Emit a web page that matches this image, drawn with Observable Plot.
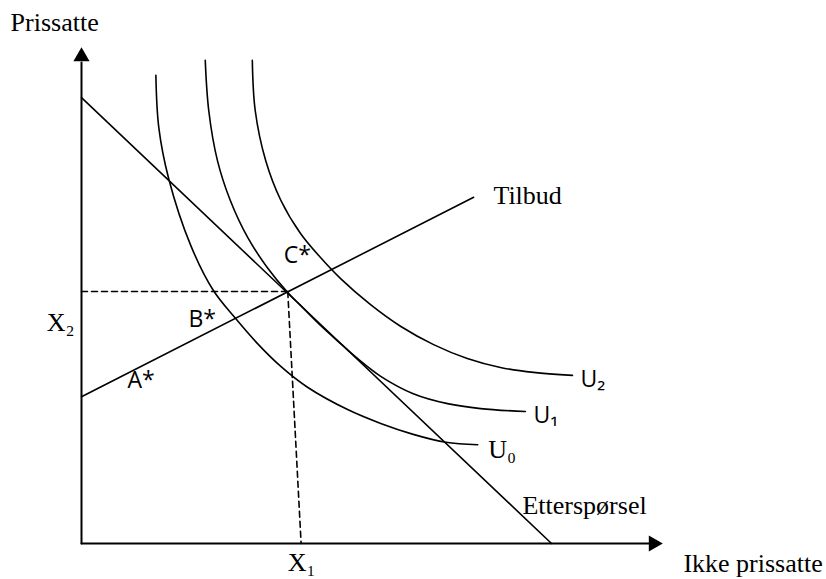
<!DOCTYPE html>
<html>
<head>
<meta charset="utf-8">
<script src="https://cdn.jsdelivr.net/npm/d3@7"></script>
<script src="https://cdn.jsdelivr.net/npm/@observablehq/plot@0.6"></script>
<style>
  html, body { margin: 0; padding: 0; background: #fff; }
</style>
</head>
<body>
<div id="chart"></div>
<script>
// Schematic values (arbitrary units, axes 0..10)
const demand = [{x: 0, y: 8.99}, {x: 8.09, y: 0}];
const supply = [{x: 0, y: 2.96}, {x: 6.75, y: 6.98}];
const dashH = [{x: 0, y: 5.08}, {x: 3.55, y: 5.08}];
const dashV = [{x: 3.55, y: 5.08}, {x: 3.78, y: 0}];

const u0 = [
  {x: 1.28, y: 9.44}, {x: 1.33, y: 8.39}, {x: 1.50, y: 7.36}, {x: 1.88, y: 6.01},
  {x: 2.27, y: 5.10}, {x: 2.65, y: 4.54}, {x: 3.03, y: 4.03}, {x: 3.43, y: 3.57},
  {x: 3.89, y: 3.15}, {x: 4.58, y: 2.70}, {x: 5.15, y: 2.42}, {x: 5.71, y: 2.20},
  {x: 6.27, y: 2.04}, {x: 6.82, y: 1.99}
];
const u1 = [
  {x: 2.13, y: 9.74}, {x: 2.19, y: 8.73}, {x: 2.34, y: 7.72}, {x: 2.56, y: 6.92},
  {x: 2.86, y: 6.17}, {x: 3.20, y: 5.56}, {x: 3.55, y: 5.06}, {x: 3.77, y: 4.80},
  {x: 4.11, y: 4.40}, {x: 4.46, y: 4.03}, {x: 4.75, y: 3.73}, {x: 5.15, y: 3.37},
  {x: 5.71, y: 3.02}, {x: 6.30, y: 2.82}, {x: 6.87, y: 2.72}, {x: 7.64, y: 2.66}
];
const u2 = [
  {x: 2.94, y: 9.74}, {x: 2.99, y: 8.73}, {x: 3.17, y: 7.72}, {x: 3.43, y: 6.92},
  {x: 3.77, y: 6.25}, {x: 4.11, y: 5.77}, {x: 4.46, y: 5.34}, {x: 4.97, y: 4.82},
  {x: 5.49, y: 4.38}, {x: 6.06, y: 4.01}, {x: 6.64, y: 3.73}, {x: 7.21, y: 3.55},
  {x: 7.78, y: 3.45}, {x: 8.45, y: 3.39}
];

const serifLabels = [
  {x: -1.22, y: 10.50, text: "Prissatte"},
  {x: 7.09, y: 7.02, text: "Tilbud"},
  {x: 7.59, y: 0.77, text: "Etterspørsel"},
  {x: 10.36, y: -0.40, text: "Ikke prissatte"},
  {x: 3.55, y: -0.38, text: "X₁"},
  {x: -0.60, y: 4.46, text: "X₂"},
  {x: 7.00, y: 1.90, text: "U₀"}
];
const sansLabels = [
  {x: 0.79, y: 3.29, text: "A*"},
  {x: 1.84, y: 4.52, text: "B*"},
  {x: 3.48, y: 5.81, text: "C*"},
  {x: 7.78, y: 2.58, text: "U₁"},
  {x: 8.59, y: 3.31, text: "U₂"}
];

const axisX = [{x: 0, y: 0}, {x: 9.8, y: 0}];
const axisY = [{x: 0, y: 0}, {x: 0, y: 9.7}];
const arrowX = [{x: 10, y: 0}];
const arrowY = [{x: 0, y: 10}];

const serif = "'Liberation Serif', 'Times New Roman', serif";
const sans = "'Open Sans', Lato, sans-serif";

const chart = Plot.plot({
  width: 826,
  height: 579,
  marginLeft: 81,
  marginRight: 164,
  marginTop: 47,
  marginBottom: 36,
  x: {domain: [0, 10], axis: null},
  y: {domain: [0, 10], axis: null},
  style: {background: "#fff", overflow: "visible"},
  marks: [
    Plot.line(axisX, {x: "x", y: "y", stroke: "black", strokeWidth: 2}),
    Plot.line(axisY, {x: "x", y: "y", stroke: "black", strokeWidth: 2}),
    Plot.dot(arrowX, {x: "x", y: "y", symbol: "triangle", r: 6, fill: "black", stroke: null, rotate: 90, dx: -9}),
    Plot.dot(arrowY, {x: "x", y: "y", symbol: "triangle", r: 6, fill: "black", stroke: null, dy: 9}),
    Plot.line(dashH, {x: "x", y: "y", stroke: "black", strokeWidth: 1.6, strokeDasharray: "6,4"}),
    Plot.line(dashV, {x: "x", y: "y", stroke: "black", strokeWidth: 1.6, strokeDasharray: "6,4"}),
    Plot.line(demand, {x: "x", y: "y", stroke: "black", strokeWidth: 1.6}),
    Plot.line(supply, {x: "x", y: "y", stroke: "black", strokeWidth: 1.6}),
    Plot.line(u0, {x: "x", y: "y", stroke: "black", strokeWidth: 1.6, curve: "catmull-rom"}),
    Plot.line(u1, {x: "x", y: "y", stroke: "black", strokeWidth: 1.6, curve: "catmull-rom"}),
    Plot.line(u2, {x: "x", y: "y", stroke: "black", strokeWidth: 1.6, curve: "catmull-rom"}),
    Plot.text(serifLabels, {x: "x", y: "y", text: "text", textAnchor: "start", fontFamily: serif, fontSize: 26, fill: "black", lineAnchor: "middle"}),
    Plot.text(sansLabels, {x: "x", y: "y", text: "text", textAnchor: "start", fontFamily: sans, fontSize: 23, fill: "black", lineAnchor: "middle"})
  ]
});
document.getElementById("chart").appendChild(chart);
</script>
</body>
</html>
